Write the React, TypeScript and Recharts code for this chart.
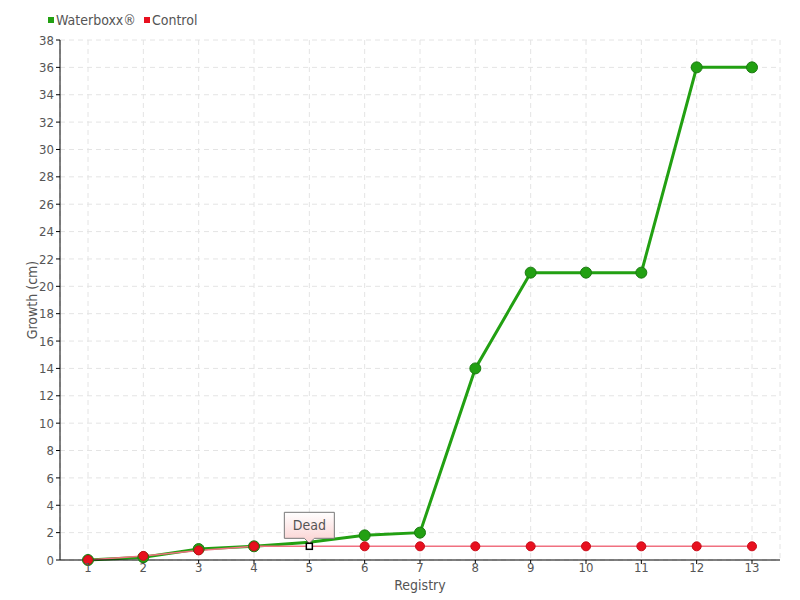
import { CartesianGrid, Legend, Line, LineChart, XAxis, YAxis } from "recharts";

const registry = ["1", "2", "3", "4", "5", "6", "7", "8", "9", "10", "11", "12", "13"];
const waterboxx = [0, 0.2, 0.8, 1.0, 1.3, 1.8, 2.0, 14, 21, 21, 21, 36, 36];
const control = [0, 0.3, 0.7, 1.0, 1.0, 1.0, 1.0, 1.0, 1.0, 1.0, 1.0, 1.0, 1.0];
const yTicks = [0, 2, 4, 6, 8, 10, 12, 14, 16, 18, 20, 22, 24, 26, 28, 30, 32, 34, 36, 38];
const deadIndex = 4;

const data = registry.map((r, i) => ({ r, waterboxx: waterboxx[i], control: control[i] }));

const FONT = '"DejaVu Sans Condensed", "DejaVu Sans", sans-serif';
const GREEN = "#22a012";
const RED = "#e8101f";

function GreenDot(props: any) {
  const { cx, cy, index } = props;
  if (index === deadIndex) return <g key={`g${index}`} />;
  return <circle key={`g${index}`} cx={cx} cy={cy} r={5.5} fill={GREEN} stroke="#1a7a10" strokeWidth={1} />;
}

function RedDot(props: any) {
  const { cx, cy, index } = props;
  if (index !== deadIndex) {
    return <circle key={`r${index}`} cx={cx} cy={cy} r={4.5} fill={RED} stroke="#c80c18" strokeWidth={1} />;
  }
  const bw = 50;
  const bh = 26;
  const bx = cx - 25;
  const by = cy - 34;
  return (
    <g key={`r${index}`}>
      <defs>
        <linearGradient id="deadGrad" x1="0" y1="0" x2="0" y2="1">
          <stop offset="0%" stopColor="#ffffff" />
          <stop offset="100%" stopColor="#fbd0d0" />
        </linearGradient>
      </defs>
      <path
        d={`M${bx},${by} H${bx + bw} V${by + bh} H${cx + 5} L${cx},${by + bh + 5} L${cx - 5},${by + bh} H${bx} Z`}
        fill="url(#deadGrad)"
        stroke="#777"
        strokeWidth={1}
      />
      <text x={cx} y={by + 18} textAnchor="middle" fontSize={14} fill="#555" fontFamily={FONT}>
        Dead
      </text>
      <rect x={cx - 3} y={cy - 3} width={6} height={6} fill="#fff" stroke="#000" strokeWidth={1.5} />
    </g>
  );
}

function LegendContent() {
  const items = [
    { name: "Waterboxx®", color: GREEN },
    { name: "Control", color: RED },
  ];
  return (
    <div style={{ display: "flex", fontFamily: FONT, fontSize: 14, color: "#555" }}>
      {items.map((it) => (
        <div key={it.name} style={{ display: "flex", alignItems: "center", marginRight: 8 }}>
          <span style={{ width: 6, height: 6, background: it.color, display: "inline-block", marginRight: 2 }} />
          {it.name}
        </div>
      ))}
    </div>
  );
}

export default function App() {
  return (
    <div style={{ position: "absolute", left: 0, top: 0, width: 800, height: 600, background: "#fff" }}>
      <LineChart width={800} height={600} data={data} margin={{ top: 40, right: 20, left: 0, bottom: 0 }}>
        <CartesianGrid stroke="#e4e4e4" strokeDasharray="5 4" />
        <XAxis
          dataKey="r"
          height={40}
          padding={{ left: 28, right: 28 }}
          stroke="#000"
          tick={{ fill: "#555", fontSize: 13, fontFamily: FONT, dy: -3 }}
          tickSize={4}
          label={{ value: "Registry", position: "insideBottom", offset: 10, fill: "#555", fontSize: 14, fontFamily: FONT }}
        />
        <YAxis
          width={60}
          domain={[0, 38]}
          ticks={yTicks}
          interval={0}
          stroke="#000"
          tick={{ fill: "#555", fontSize: 13, fontFamily: FONT }}
          tickSize={4}
          label={{ value: "Growth (cm)", angle: -90, position: "insideLeft", offset: 32, fill: "#555", fontSize: 14, fontFamily: FONT, style: { textAnchor: "middle" } }}
        />
        <Legend
          verticalAlign="middle"
          layout="horizontal"
          content={<LegendContent />}
          wrapperStyle={{ top: 12, left: 48, width: 300 }}
        />
        <Line
          dataKey="waterboxx"
          name="Waterboxx®"
          stroke={GREEN}
          strokeWidth={3}
          dot={GreenDot}
          activeDot={false}
          isAnimationActive={false}
        />
        <Line
          dataKey="control"
          name="Control"
          stroke="#f07080"
          strokeWidth={1.5}
          dot={RedDot}
          activeDot={false}
          isAnimationActive={false}
        />
      </LineChart>
    </div>
  );
}
